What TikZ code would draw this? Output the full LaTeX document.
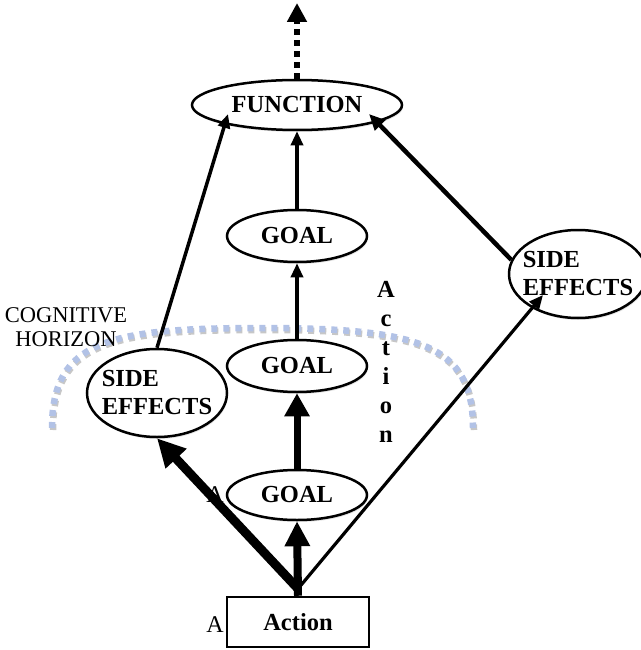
\documentclass[tikz,border=0pt]{standalone}
\usepackage{fontspec}
\setmainfont{Liberation Serif}
\usetikzlibrary{shapes.geometric,arrows.meta,shadows}
\definecolor{hz}{RGB}{178,194,230}
\begin{document}
\begin{tikzpicture}[x=1pt,y=-1pt,
  ell/.style={ellipse,draw,line width=2.5pt,fill=white,inner sep=-20pt,
    font=\fontsize{24.5}{28}\selectfont\bfseries,
    drop shadow={shadow xshift=1pt,shadow yshift=-2pt,fill=black!22}},
  horizon/.style={line width=6.5pt,dash pattern=on 6pt off 6pt},
  plain/.style={inner sep=0pt,font=\fontsize{24}{26}\selectfont},
  thinarr/.style={line width=3.2pt,-{Triangle[length=14pt,width=12pt]}},
  midarr/.style={line width=4.5pt,-{Triangle[length=16pt,width=14pt]}},
  fatarr/.style={line width=8pt,-{Triangle[length=25pt,width=24pt]}}]
\useasboundingbox (0,0) rectangle (640,650);
% cognitive horizon
\draw[horizon,black!22] (53,430) .. controls (53,342) and (111,330) .. (263,330) .. controls (421,330) and (474,347) .. (474,430);
\draw[horizon,hz] (52,428) .. controls (52,340) and (110,328) .. (262,328) .. controls (420,328) and (473,345) .. (473,428);
\node[plain,font=\fontsize{22.5}{24}\selectfont,align=center] (cog) at (66,327) {COGNITIVE\\HORIZON};
% nodes
\node[ell,minimum width=210pt,minimum height=50pt] (fn) at (297,105) {FUNCTION};
\node[ell,minimum width=140pt,minimum height=52pt] (g1) at (297,236) {GOAL};
\node[ell,minimum width=140pt,minimum height=52pt] (g2) at (297,366) {GOAL};
\node[ell,minimum width=140pt,minimum height=50pt] (g3) at (297,495) {GOAL};
\node[ell,minimum width=140pt,minimum height=88pt,align=left] (seL) at (157,393) {SIDE\\EFFECTS};
\node[ell,minimum width=138pt,minimum height=88pt,align=left] (seR) at (578,274) {SIDE\\EFFECTS};
\node[draw,line width=2.5pt,fill=white,minimum width=142pt,minimum height=50pt,
  font=\fontsize{24.5}{28}\selectfont\bfseries] (act) at (298,622) {Action};
\node[plain] (a1) at (215,495) {A};
\node[plain] (a2) at (215,625) {A};
\node[plain,font=\fontsize{24.5}{29}\selectfont\bfseries,align=center,anchor=north] (vact) at (386,281) {A\\c\\t\\i\\o\\n};
% helper coordinates
\coordinate (j) at ([yshift=7pt]act.north);
\coordinate (top) at (297,3);
\coordinate (tR) at (543,295);
\coordinate (fL) at (228,114);
\coordinate (fR) at (369,114);
% connectors
\draw[line width=6pt,dash pattern=on 6pt off 5pt,-{Triangle[length=19pt,width=19pt]}] (fn.north) -- (top);
\draw[fatarr] (act.north) -- (g3.south);
\draw[line width=7pt,-{Triangle[length=23pt,width=24pt]}] (g3.north) -- (g2.south);
\draw[thinarr] (g2.north) -- (g1.south);
\draw[thinarr] (g1.north) -- (fn.south);
\draw[line width=9pt,-{Triangle[length=28pt,width=27pt]}] (j) -- (seL.south);
\draw[thinarr] (j) -- (tR);
\draw[line width=3.5pt,-{Triangle[length=14pt,width=12pt]}] (seL.north) -- (fL);
\draw[midarr] (seR.168) -- (fR);
\end{tikzpicture}
\end{document}
